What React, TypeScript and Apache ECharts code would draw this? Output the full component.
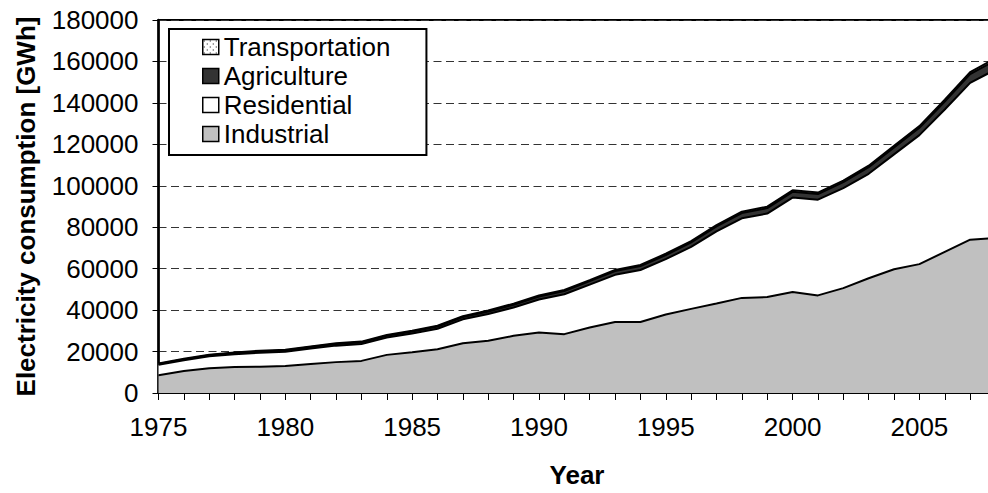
import React, { useEffect, useRef } from "react";
import * as echarts from "echarts";

const years = [
  "1975", "1976", "1977", "1978", "1979", "1980", "1981", "1982", "1983", "1984",
  "1985", "1986", "1987", "1988", "1989", "1990", "1991", "1992", "1993", "1994",
  "1995", "1996", "1997", "1998", "1999", "2000", "2001", "2002", "2003", "2004",
  "2005", "2006", "2007", "2008",
];

const industrial = [
  8600, 10600, 12000, 12500, 12700, 13000, 14000, 14900, 15500, 18400,
  19700, 21100, 24000, 25200, 27600, 29200, 28400, 31600, 34300, 34300,
  37900, 40600, 43200, 45900, 46300, 48700, 47100, 50600, 55400, 59700,
  62200, 68100, 74000, 74800,
];

const residential = [
  5020, 5160, 5680, 6230, 6770, 6920, 7450, 7960, 8110, 8330,
  9020, 9930, 11540, 12910, 13690, 15940, 19250, 20680, 22720, 25060,
  26690, 29920, 34780, 38380, 40300, 45600, 46180, 48230, 50370, 55460,
  62240, 68700, 75630, 81290,
];

const agriculture = [
  400, 450, 520, 560, 610, 650, 720, 790, 830, 900,
  980, 1050, 1130, 1240, 1330, 1460, 1540, 1690, 1820, 1870,
  2010, 2150, 2380, 2560, 2610, 2790, 2720, 2950, 3180, 3370,
  3560, 3880, 4310, 4520,
];

const transportation = [
  280, 290, 300, 310, 320, 330, 330, 350, 360, 370,
  400, 420, 430, 450, 480, 500, 510, 530, 560, 570,
  600, 630, 640, 660, 690, 710, 700, 720, 750, 770,
  800, 820, 860, 890,
];

const legendOrder = ["Transportation", "Agriculture", "Residential", "Industrial"];

const FONT = 'Arial, "Liberation Sans", sans-serif';

function makeDots(): string {
  const c = document.createElement("canvas");
  c.width = 6;
  c.height = 6;
  const ctx = c.getContext("2d");
  if (ctx) {
    ctx.fillStyle = "#ffffff";
    ctx.fillRect(0, 0, 6, 6);
    ctx.fillStyle = "#000000";
    ctx.fillRect(1, 1, 1, 1);
    ctx.fillRect(4, 4, 1, 1);
  }
  return c.toDataURL();
}

export default function App() {
  const ref = useRef<HTMLDivElement>(null);

  useEffect(() => {
    if (!ref.current) return;
    const chart = echarts.init(ref.current, null, { renderer: "svg" });
    const dots: any = { image: makeDots(), repeat: "repeat", imageWidth: 6, imageHeight: 6 };

    const fills: Record<string, any> = {
      Industrial: "#C0C0C0",
      Residential: "#FFFFFF",
      Agriculture: "#333333",
      Transportation: dots,
    };

    const mk = (name: string, data: number[], z: number) => ({
      name,
      type: "line",
      stack: "total",
      data,
      symbol: "none",
      showSymbol: false,
      z,
      lineStyle: { color: "#000", width: 2 },
      areaStyle: { color: fills[name], opacity: 1 },
      itemStyle: { color: fills[name] },
      emphasis: { disabled: true },
    });

    chart.setOption({
      animation: false,
      backgroundColor: "#fff",
      grid: {
        left: 158.5,
        top: 20,
        width: 837,
        height: 378,
        show: true,
        borderColor: "#000",
        borderWidth: 2,
        backgroundColor: "transparent",
      },
      legend: {
        orient: "vertical",
        left: 169,
        top: 29,
        padding: [5, 36, 8, 33],
        itemGap: 3,
        itemWidth: 16,
        itemHeight: 15,
        itemTextGap: 7,
        icon: "rect",
        selectedMode: false,
        backgroundColor: "#fff",
        borderColor: "#000",
        borderWidth: 2,
        itemStyle: { borderColor: "#000", borderWidth: 1.5 },
        textStyle: { fontSize: 26, fontFamily: FONT, color: "#000" },
        data: legendOrder.map((n) => ({ name: n, itemStyle: { color: fills[n], borderColor: "#000", borderWidth: 1.5 } })),
      },
      xAxis: {
        type: "category",
        data: years,
        boundaryGap: false,
        name: "Year",
        nameLocation: "middle",
        nameGap: 69,
        nameTextStyle: { fontSize: 26, fontWeight: "bold", fontFamily: FONT, color: "#000" },
        axisLine: { show: true, lineStyle: { color: "#000", width: 2 } },
        axisTick: { show: true, interval: 0, length: 7, lineStyle: { color: "#000", width: 1 } },
        axisLabel: { interval: 4, fontSize: 26, fontFamily: FONT, color: "#000", margin: 21 },
        splitLine: { show: false },
      },
      yAxis: {
        type: "value",
        min: 0,
        max: 180000,
        interval: 20000,
        name: "Electricity consumption [GWh]",
        nameLocation: "middle",
        nameRotate: 90,
        nameGap: 120,
        nameTextStyle: { fontSize: 26, fontWeight: "bold", fontFamily: FONT, color: "#000" },
        axisLine: { show: true, lineStyle: { color: "#000", width: 2.5 } },
        axisTick: { show: true, length: 6, lineStyle: { color: "#000", width: 1 } },
        axisLabel: {
          fontSize: 26,
          fontFamily: FONT,
          color: "#000",
          margin: 20,
          formatter: (v: number) => String(v),
        },
        splitLine: { show: true, lineStyle: { color: "#333", width: 1, type: [8, 4.5] } },
      },
      series: [
        mk("Industrial", industrial, 6),
        mk("Residential", residential, 5),
        mk("Agriculture", agriculture, 4),
        mk("Transportation", transportation, 3),
      ],
    });

    return () => chart.dispose();
  }, []);

  return (
    <div style={{ position: "fixed", left: 0, top: 0, width: 988, height: 493, overflow: "hidden", background: "#fff" }}>
      <div ref={ref} style={{ width: 1000, height: 493 }} />
    </div>
  );
}
